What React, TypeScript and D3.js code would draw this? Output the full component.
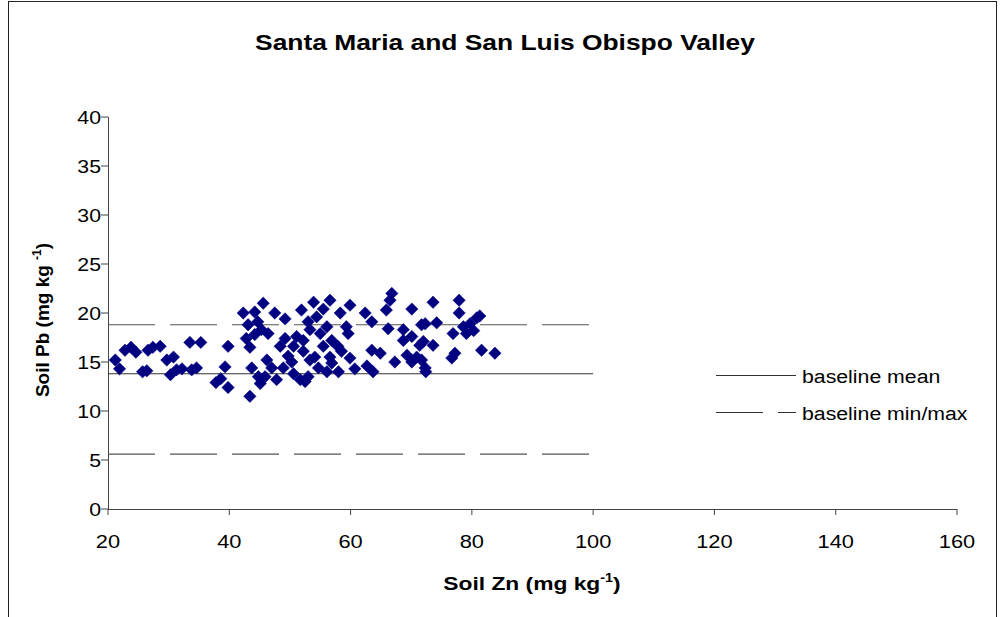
import React from "react";
import * as d3 from "d3";

const zn: number[] = [
  21.2, 21.9, 22.8, 23.8, 24.6, 25.7, 26.4, 26.6, 27.4, 28.6, 29.7, 30.8, 30.3, 31.3, 32.2,
  33.5, 35.3, 39.8, 33.8, 34.6, 39.3, 38.6, 39.8, 37.8, 43.4, 43.7, 45.1, 44.8,
  42.3, 44.2, 45.6, 43.1, 44.7, 42.8, 44.2, 43.4,
  47.5, 49.2, 45.3, 51.9, 53.9, 56.6, 58.3, 55.5, 54.4, 53.0,
  46.4, 48.4, 49.2, 51.1, 52.2, 53.3, 55.0, 56.1, 56.9, 57.9, 55.5,
  46.2, 45.9, 47.8, 48.9, 50.3, 50.6, 51.7, 53.0, 53.3, 52.2, 54.1, 54.7, 56.1, 56.9, 58.0, 56.6,
  50.6, 49.7, 47.0, 52.5,
  59.9, 62.4, 66.8, 66.5, 65.9, 70.1, 63.5, 59.3, 59.6, 66.2, 68.7, 70.1, 68.7, 71.7,
  58.5, 59.9, 60.7, 63.5, 64.9, 63.7, 62.7, 67.3, 69.3, 70.1, 70.9, 71.4,
  73.6, 77.9, 77.9, 81.3, 72.3, 74.2, 76.9, 78.6, 79.7, 80.3, 79.1, 80.8,
  72.0, 73.6, 77.2, 76.7, 81.6, 83.8, 72.3, 71.7, 72.4,
];

const pb: number[] = [
  15.2, 14.3, 16.2, 16.5, 16.0, 14.0, 14.1, 16.2, 16.5, 16.6, 15.2, 15.5, 13.7, 14.2, 14.3,
  17.0, 17.0, 16.6, 14.2, 14.4, 14.5, 13.3, 12.4, 12.9, 11.5, 14.4, 12.8, 13.5,
  20.0, 20.1, 21.0, 18.8, 19.1, 17.4, 17.8, 16.5,
  20.0, 19.4, 18.3, 20.3, 21.1, 21.3, 20.0, 20.4, 19.6, 19.1,
  17.9, 16.6, 17.4, 17.6, 17.2, 18.3, 17.9, 18.6, 17.2, 16.6, 16.6,
  15.2, 13.5, 13.2, 14.4, 15.0, 13.8, 13.2, 13.5, 15.2, 16.1, 15.5, 14.4, 14.0, 14.9, 14.0, 15.5,
  16.6, 15.6, 14.4, 13.0,
  20.8, 20.0, 22.0, 21.3, 20.3, 20.4, 19.1, 18.6, 17.9, 18.4, 18.3, 17.6, 17.2, 18.8,
  16.1, 15.4, 14.3, 16.2, 15.9, 14.0, 14.6, 15.0, 15.7, 15.0, 15.5, 16.7,
  21.1, 21.3, 20.0, 19.7, 18.9, 19.0, 17.9, 18.6, 18.9, 18.2, 17.9, 19.5,
  17.1, 16.7, 15.9, 15.4, 16.2, 15.9, 14.4, 15.2, 14.0,
];

const baselineMean = 13.8;
const baselineMin = 5.6;
const baselineMax = 18.8;
const baselineXRange: [number, number] = [20, 100];

const xTicks: number[] = [20, 40, 60, 80, 100, 120, 140, 160];
const yTicks: number[] = [0, 5, 10, 15, 20, 25, 30, 35, 40];

const FONT = "'Liberation Sans', Arial, sans-serif";
const NAVY = "#000080";

function SText(props: {
  x: number;
  y: number;
  sx?: number;
  anchor?: "start" | "middle" | "end";
  size: number;
  bold?: boolean;
  children: React.ReactNode;
}) {
  const { x, y, sx = 1.15, anchor = "start", size, bold, children } = props;
  return (
    <g transform={`translate(${x},${y}) scale(${sx},1)`}>
      <text
        x={0}
        y={0}
        dy="0.35em"
        textAnchor={anchor}
        fontFamily={FONT}
        fontSize={size}
        fontWeight={bold ? "bold" : "normal"}
        fill="#000"
      >
        {children}
      </text>
    </g>
  );
}

export default function App() {
  const x = d3.scaleLinear().domain([20, 160]).range([108, 957]);
  const y = d3.scaleLinear().domain([0, 40]).range([509, 117]);
  const points = d3.zip(zn, pb) as [number, number][];
  const r = 6.2;
  const diamond = `M0,${-r}L${r},0L0,${r}L${-r},0Z`;
  const dash = "47,15";

  return (
    <div style={{ position: "fixed", left: 0, top: 0 }}>
      <svg width={1000} height={617} style={{ display: "block", background: "#fff" }}>
        <rect x={8.5} y={1.5} width={988} height={640} fill="#fff" stroke="#222" strokeWidth={1} />
        <SText x={505} y={42} anchor="middle" size={22} bold sx={1.2}>
          Santa Maria and San Luis Obispo Valley
        </SText>

        {/* y axis */}
        <line x1={108.5} x2={108.5} y1={y(40)} y2={y(0)} stroke="#444" />
        {yTicks.map((t) => (
          <g key={"y" + t}>
            <line x1={101} x2={108} y1={y(t)} y2={y(t)} stroke="#444" />
            <SText x={101} y={y(t)} anchor="end" size={19} sx={1.12}>
              {t}
            </SText>
          </g>
        ))}
        {/* x axis */}
        <line x1={x(20)} x2={x(160)} y1={509.5} y2={509.5} stroke="#444" />
        {xTicks.map((t) => (
          <g key={"x" + t}>
            <line x1={x(t)} x2={x(t)} y1={509} y2={515} stroke="#444" />
            <SText x={x(t)} y={541} anchor="middle" size={19} sx={1.15}>
              {t}
            </SText>
          </g>
        ))}

        {/* baselines */}
        <line x1={x(baselineXRange[0])} x2={x(baselineXRange[1])} y1={y(baselineMean)} y2={y(baselineMean)} stroke="#333" strokeWidth={1} />
        <line x1={x(baselineXRange[0])} x2={x(baselineXRange[1])} y1={y(baselineMax)} y2={y(baselineMax)} stroke="#555" strokeWidth={1.2} strokeDasharray={dash} />
        <line x1={x(baselineXRange[0])} x2={x(baselineXRange[1])} y1={y(baselineMin)} y2={y(baselineMin)} stroke="#555" strokeWidth={1.2} strokeDasharray={dash} />

        {/* points */}
        {points.map(([a, b], i) => (
          <path key={i} d={diamond} transform={`translate(${x(a)},${y(b)})`} fill={NAVY} stroke={NAVY} strokeWidth={0.5} />
        ))}

        {/* legend */}
        <line x1={716} x2={796} y1={375.5} y2={375.5} stroke="#333" />
        <SText x={802} y={376} size={19} sx={1.12}>baseline mean</SText>
        <line x1={716} x2={796} y1={412.5} y2={412.5} stroke="#333" strokeDasharray={dash} />
        <SText x={802} y={413} size={19} sx={1.12}>baseline min/max</SText>

        {/* axis titles */}
        <SText x={532} y={583} anchor="middle" size={19} bold sx={1.2}>
          Soil Zn (mg kg<tspan fontSize={12} dy={-8}>-1</tspan><tspan dy={8}>)</tspan>
        </SText>
        <text transform="translate(49,320) rotate(-90)" textAnchor="middle" fontFamily={FONT} fontWeight="bold" fontSize={19}>
          Soil Pb (mg kg <tspan fontSize={12} dy={-8}>-1</tspan><tspan dy={8}>)</tspan>
        </text>
      </svg>
    </div>
  );
}
